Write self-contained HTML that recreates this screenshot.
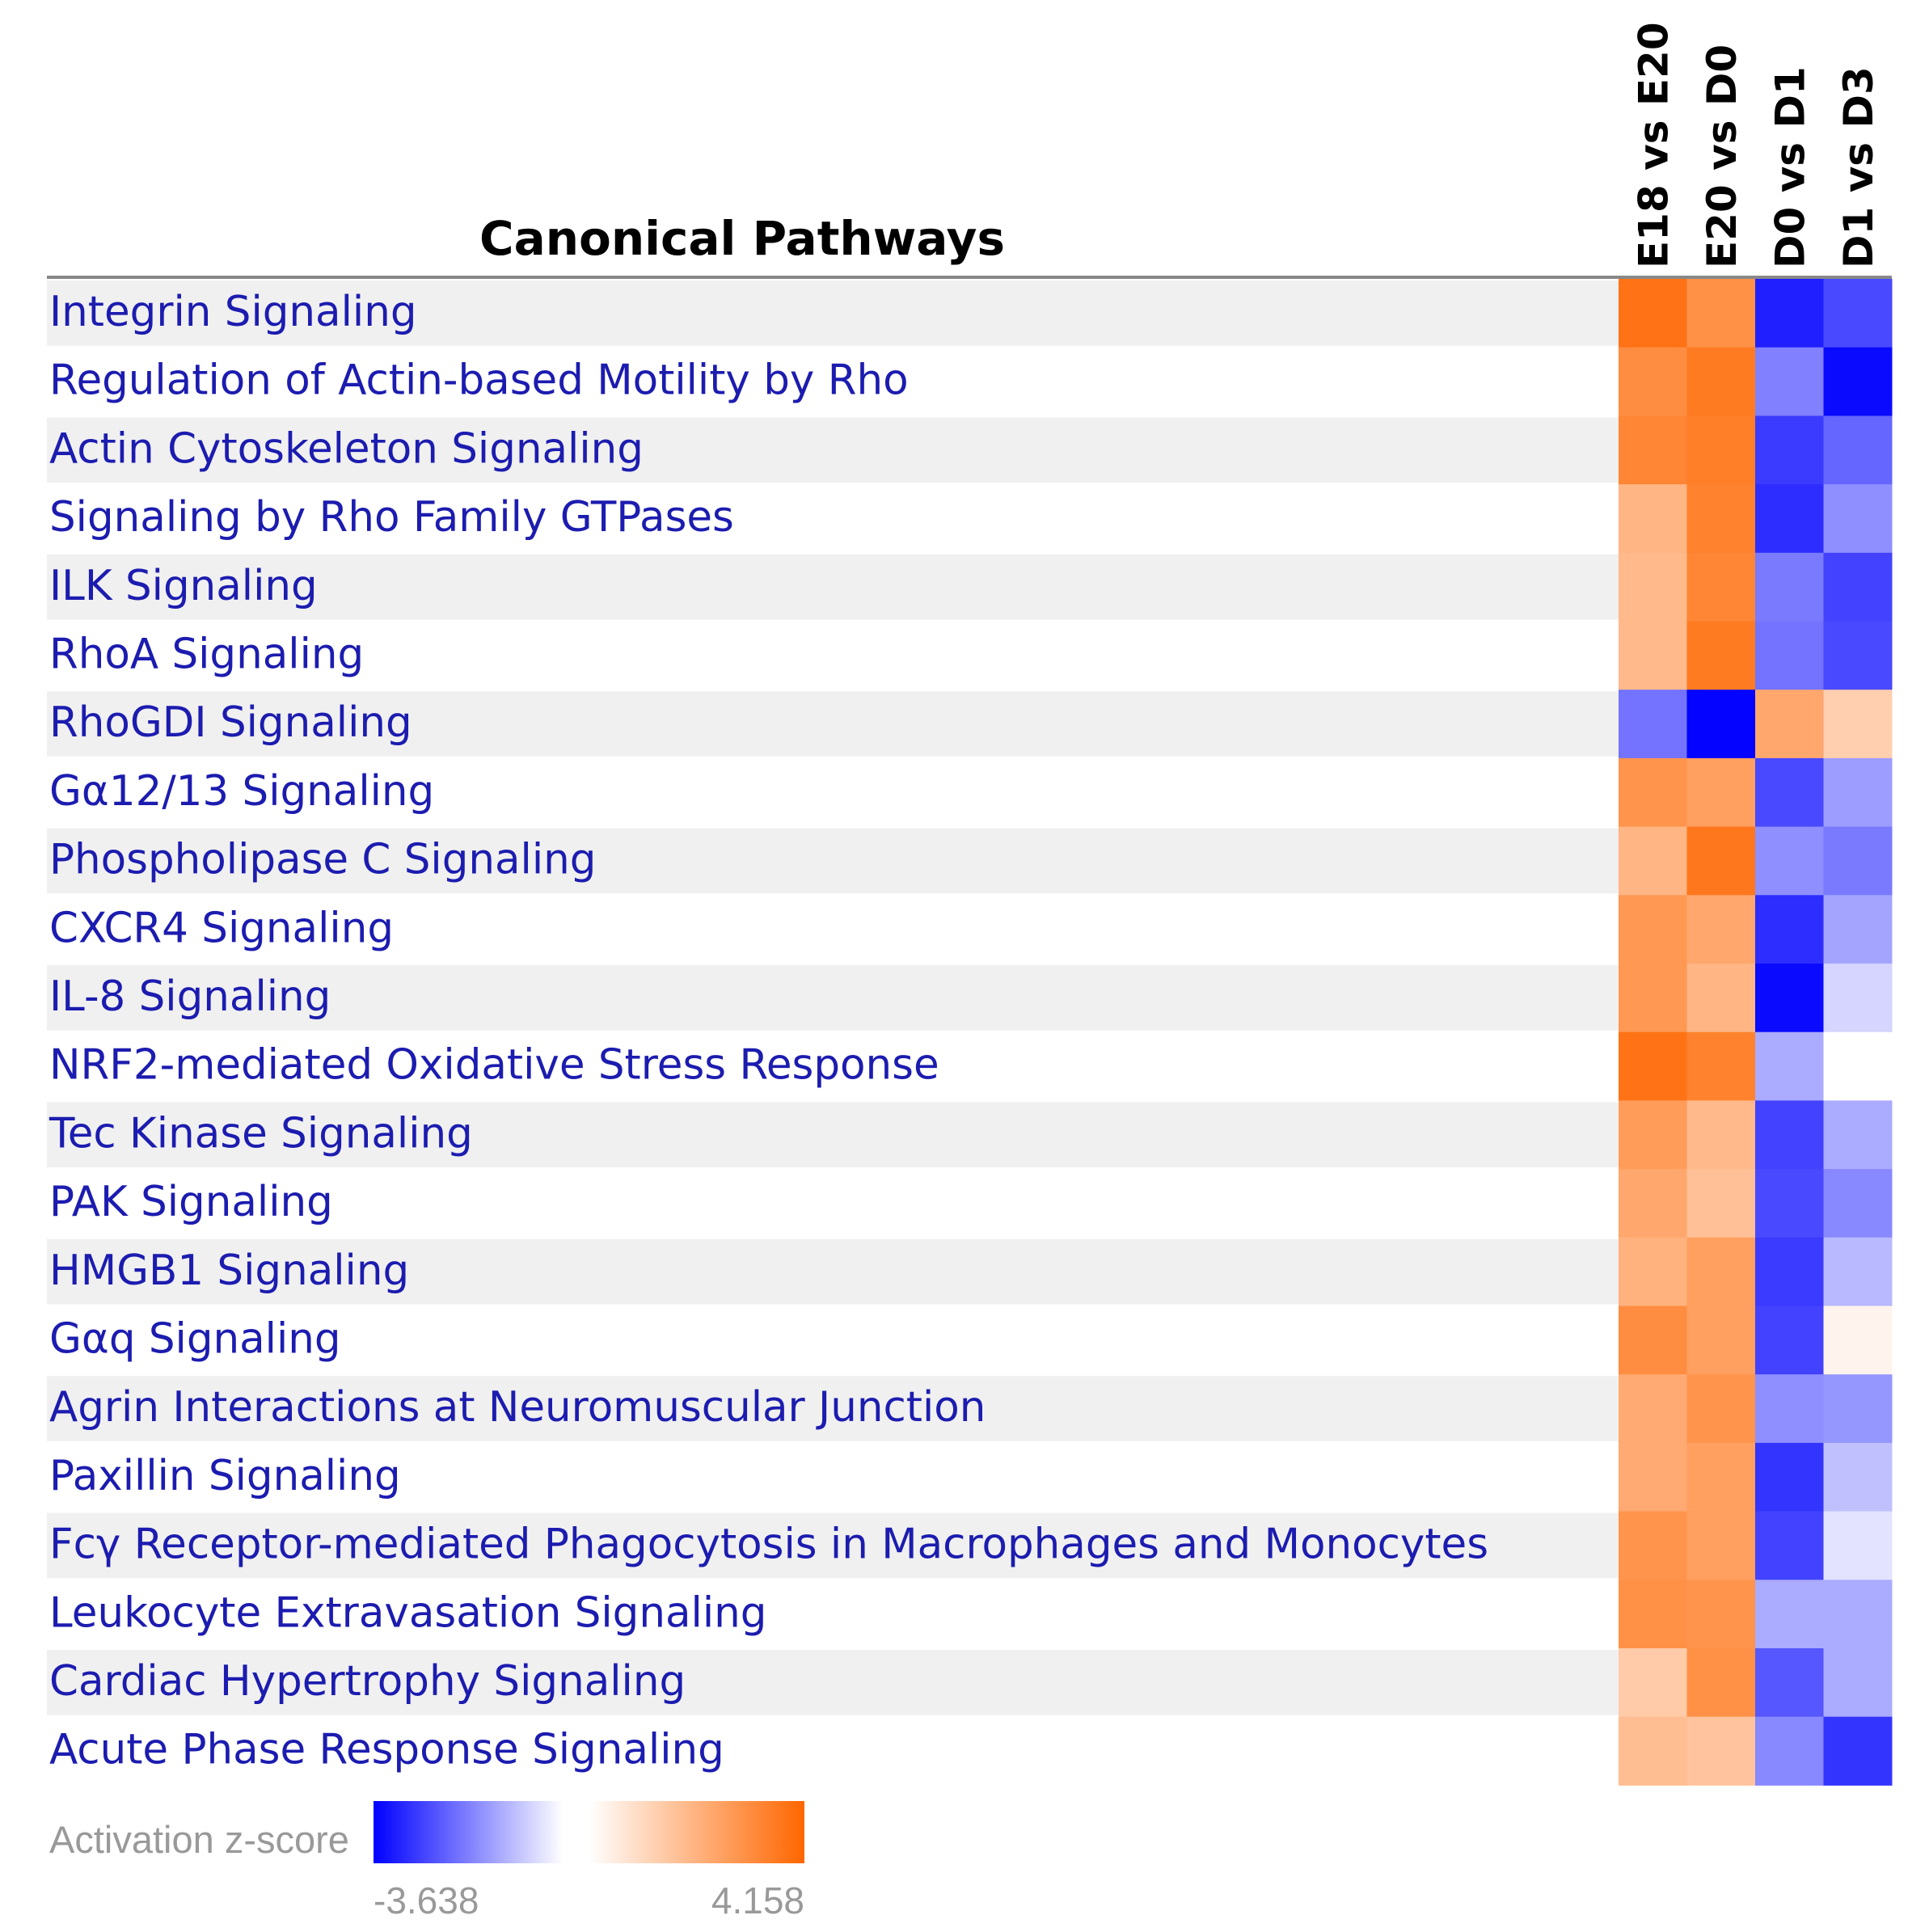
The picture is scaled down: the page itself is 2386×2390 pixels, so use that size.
<!DOCTYPE html>
<html><head><meta charset="utf-8"><style>
html,body{margin:0;padding:0;background:#fff;}
svg{display:block;}
</style></head><body>
<svg id="chart" width="2386" height="2390" viewBox="0 0 2386 2390" xmlns="http://www.w3.org/2000/svg">
<defs>
<linearGradient id="lg" x1="0" x2="1" y1="0" y2="0">
<stop offset="0" stop-color="#0000ff"/>
<stop offset="0.44" stop-color="#ffffff"/>
<stop offset="0.5" stop-color="#ffffff"/>
<stop offset="1" stop-color="#ff6600"/>
</linearGradient>
</defs>
<g id="stripes"></g>
<text x="918" y="315" text-anchor="middle" font-family="DejaVu Sans, sans-serif" font-weight="bold" font-size="58" fill="#000">Canonical Pathways</text>
<line x1="58" x2="2340" y1="343" y2="343" stroke="#888" stroke-width="4"/>
<g id="cols"></g>
<g id="labels" transform="translate(61,0) scale(0.99,1)"></g>
<g id="cells"></g>
<text x="61" y="2292" font-family="Liberation Sans, sans-serif" font-size="47" fill="#999">Activation z-score</text>
<rect x="462" y="2228" width="533" height="77" fill="url(#lg)"/>
<text id="minlab" x="462" y="2367" font-family="Liberation Sans, sans-serif" font-size="46" fill="#999"></text>
<text id="maxlab" x="995" y="2367" text-anchor="end" font-family="Liberation Sans, sans-serif" font-size="46" fill="#999"></text>
</svg>
<script>
const pathways = ["Integrin Signaling","Regulation of Actin-based Motility by Rho","Actin Cytoskeleton Signaling","Signaling by Rho Family GTPases","ILK Signaling","RhoA Signaling","RhoGDI Signaling","G\u03b112/13 Signaling","Phospholipase C Signaling","CXCR4 Signaling","IL-8 Signaling","NRF2-mediated Oxidative Stress Response","Tec Kinase Signaling","PAK Signaling","HMGB1 Signaling","G\u03b1q Signaling","Agrin Interactions at Neuromuscular Junction","Paxillin Signaling","Fc\u03b3 Receptor-mediated Phagocytosis in Macrophages and Monocytes","Leukocyte Extravasation Signaling","Cardiac Hypertrophy Signaling","Acute Phase Response Signaling"];
const comparisons = ["E18 vs E20","E20 vs D0","D0 vs D1","D1 vs D3"];
const e18vsE20 = [3.8,3.1,3.3,2.0,1.9,1.9,-2.0,2.9,2.0,2.8,2.8,3.8,2.7,2.4,2.1,3.1,2.3,2.3,2.9,3.0,1.4,1.8];
const e20vsD0 = [3.0,3.6,3.5,3.4,3.3,3.6,-3.6,2.6,3.7,2.4,2.0,3.4,1.9,1.7,2.6,2.6,2.9,2.6,2.6,2.9,3.0,1.6];
const d0vsD1 = [-3.2,-1.8,-2.8,-3.0,-1.9,-2.0,2.4,-2.6,-1.6,-3.0,-3.5,-1.2,-2.7,-2.6,-2.8,-2.7,-1.6,-2.9,-2.7,-1.2,-2.4,-1.7];
const d1vsD3 = [-2.6,-3.5,-2.2,-1.6,-2.7,-2.6,1.3,-1.4,-1.9,-1.3,-0.6,0,-1.2,-1.7,-1.0,0.3,-1.5,-0.9,-0.4,-1.2,-1.2,-2.9];
const scaleMin = -3.638, scaleMax = 4.158;

const NS = "http://www.w3.org/2000/svg";
const series = [e18vsE20, e20vsD0, d0vsD1, d1vsD3];
const top0 = 345, rowH = 84.7, left0 = 2002, colW = 84.5;
const yPos = i => top0 + i * rowH;
const xPos = j => left0 + j * colW;
function color(v){
  let r,g,b;
  if (v >= 0){ const t = Math.min(1, v/scaleMax); r=255; g=Math.round(255 - t*(255-102)); b=Math.round(255*(1-t)); }
  else { const t = Math.min(1, v/scaleMin); r=Math.round(255*(1-t)); g=Math.round(255*(1-t)); b=255; }
  return `rgb(${r},${g},${b})`;
}
const stripes = document.getElementById('stripes');
const labels = document.getElementById('labels');
const cells = document.getElementById('cells');
const cols = document.getElementById('cols');
pathways.forEach((p,i)=>{
  if (i % 2 === 0){
    const s = document.createElementNS(NS,'rect');
    
    
    s.setAttribute('x',58); s.setAttribute('y',yPos(i)+2);
    s.setAttribute('width',1945); s.setAttribute('height',rowH-4);
    s.setAttribute('fill','#f0f0f0');
    stripes.appendChild(s);
  }
  const t = document.createElementNS(NS,'text');
  
  
  t.setAttribute('x',0); t.setAttribute('y',yPos(i)+58);
  t.setAttribute('font-family','DejaVu Sans, sans-serif');
  t.setAttribute('font-size','52');
  t.setAttribute('fill','#1c1cb0');
  t.textContent = p;
  labels.appendChild(t);
  series.forEach((arr,j)=>{
    const c = document.createElementNS(NS,'rect');
    
    
    c.setAttribute('x',xPos(j)); c.setAttribute('y',yPos(i));
    c.setAttribute('width',colW+0.5); c.setAttribute('height',rowH+0.5);
    c.setAttribute('fill',color(arr[i]));
    cells.appendChild(c);
  });
});
comparisons.forEach((c,j)=>{
  const t = document.createElementNS(NS,'text');
  
  
  const cx = xPos(j)+colW/2+18, by = 332;
  t.setAttribute('transform',`translate(${cx},${by}) rotate(-90)`);
  t.setAttribute('font-family','DejaVu Sans, sans-serif');
  t.setAttribute('font-weight','bold');
  t.setAttribute('font-size','50');
  t.setAttribute('fill','#000');
  t.textContent = c;
  cols.appendChild(t);
});
document.getElementById('minlab').textContent = scaleMin.toFixed(3);
document.getElementById('maxlab').textContent = scaleMax.toFixed(3);
</script>
</body></html>
